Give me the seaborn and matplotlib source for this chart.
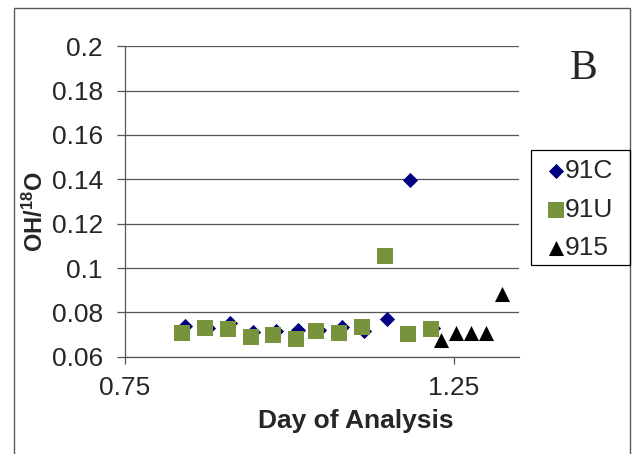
import numpy as np
import pandas as pd
import matplotlib
matplotlib.use('Agg')
import matplotlib.pyplot as plt
import seaborn as sns
from matplotlib.patches import Rectangle
from matplotlib.ticker import FuncFormatter

# ── Data ──────────────────────────────────────────────────────
days_91c  = [0.841, 0.876, 0.910, 0.945, 0.980, 1.014, 1.045, 1.080, 1.114, 1.149, 1.184, 1.219]
ratio_91c = [0.0738, 0.0728, 0.0751, 0.0713, 0.0716, 0.0721, 0.0721, 0.0733, 0.0718, 0.0769, 0.1398, 0.0728]

days_91u  = [0.836, 0.871, 0.906, 0.941, 0.975, 1.010, 1.041, 1.076, 1.111, 1.146, 1.180, 1.215]
ratio_91u = [0.0706, 0.0731, 0.0725, 0.0689, 0.0697, 0.0681, 0.0715, 0.0709, 0.0736, 0.1052, 0.0704, 0.0724]

days_915  = [1.231, 1.254, 1.276, 1.300, 1.323]
ratio_915 = [0.0677, 0.0708, 0.0708, 0.0708, 0.0884]

x_ticks = [0.75, 1.25]
y_ticks = [0.06, 0.08, 0.10, 0.12, 0.14, 0.16, 0.18, 0.20]

SERIES = [
    ("91C", days_91c, ratio_91c, "D", "#000080", 60),
    ("91U", days_91u, ratio_91u, "s", "#77933C", 118),
    ("915", days_915, ratio_915, "^", "#000000", 118),
]

# ── Style ─────────────────────────────────────────────────────
sns.set_style("white")
plt.rcParams['font.family'] = ['Liberation Sans', 'DejaVu Sans']
plt.rcParams['mathtext.fontset'] = 'custom'
plt.rcParams['mathtext.rm'] = 'Liberation Sans'
plt.rcParams['mathtext.bf'] = 'Liberation Sans:bold'

W, H = 635, 454
fig = plt.figure(figsize=(W / 100, H / 100), dpi=100)
ax = fig.add_axes([125 / W, 1 - 356.7 / H, 394.3 / W, 310.4 / H])

for name, xs, ys, mk, col, size in SERIES:
    df = pd.DataFrame({"day": xs, "ratio": ys})
    sns.scatterplot(data=df, x="day", y="ratio", marker=mk, color=col,
                    s=size, linewidth=0, label=name, ax=ax, zorder=3)

ax.set_xlim(0.75, 1.35)
ax.set_ylim(0.06, 0.20)
ax.set_xticks(x_ticks)
ax.set_yticks(y_ticks)
ax.yaxis.set_major_formatter(FuncFormatter(lambda v, p: f"{v:g}"))
ax.xaxis.set_major_formatter(FuncFormatter(lambda v, p: f"{v:g}"))

ax.set_axisbelow(True)
ax.yaxis.grid(True, color='#555555', linewidth=0.9)
ax.xaxis.grid(False)
for side in ['top', 'right']:
    ax.spines[side].set_visible(False)
for side in ['left', 'bottom']:
    ax.spines[side].set_color('#555555')
    ax.spines[side].set_linewidth(0.9)

ax.tick_params(axis='y', direction='out', length=6, width=0.9, color='#555555',
               pad=10, labelsize=19, left=True)
ax.tick_params(axis='x', direction='out', length=5, width=0.9, color='#555555',
               pad=9, labelsize=19, bottom=True)

ax.set_xlabel("Day of Analysis", fontsize=19, fontweight='bold')
ax.xaxis.set_label_coords(0.585, -0.17)
ax.set_ylabel(r"OH/$\mathbf{^{18}}$O", fontsize=17, fontweight='bold')
ax.yaxis.set_label_coords(-0.195, 0.466)

# legend: entries without frame, frame drawn as its own box
leg = ax.legend(loc='upper left', bbox_to_anchor=(539 / W, 1 - 150 / H),
                bbox_transform=fig.transFigure, borderaxespad=0,
                frameon=False, fontsize=19, handletextpad=0.02,
                handlelength=0.6, labelspacing=0.55, borderpad=0.35)
fig.patches.append(Rectangle((531 / W, 1 - 265 / H), (630 - 531) / W, 115 / H,
                             transform=fig.transFigure, fill=False,
                             edgecolor='black', linewidth=0.9, zorder=4))

# panel letter
fig.text(584 / W, 1 - 69 / H, "B", family='Liberation Serif', fontsize=30,
         ha='center', va='center')

# chart-area border
fig.patches.append(Rectangle((14 / W, -0.05), (630 - 14) / W, 1.05 - 8 / H,
                             transform=fig.transFigure, fill=False,
                             edgecolor='#595959', linewidth=1.0))

plt.savefig("out.png", dpi=100)
plt.close()
